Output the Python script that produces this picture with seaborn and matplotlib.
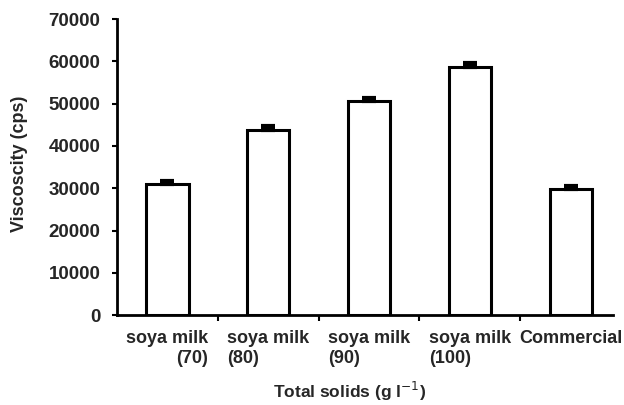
import matplotlib
matplotlib.use("Agg")
import matplotlib.pyplot as plt
import seaborn as sns
import pandas as pd
import numpy as np

categories = ["soya milk\n(70)", "soya milk\n(80)", "soya milk\n(90)", "soya milk\n(100)", "Commercial"]
viscosity = [31000, 43800, 50600, 58700, 29800]
errors = [800, 800, 800, 800, 800]

sns.set_theme(style="white")
plt.rcParams['font.family'] = ['Liberation Sans', 'DejaVu Sans']

df = pd.DataFrame({"cat": categories, "v": viscosity})

fig = plt.figure(figsize=(6.24, 4.05), dpi=100)
ax = fig.add_axes([0.1875, 0.222, 0.795, 0.731])

sns.barplot(data=df, x="cat", y="v", ax=ax, color="white", edgecolor="black",
            linewidth=2.2, width=0.42, errorbar=None, saturation=1)
ax.errorbar(np.arange(len(categories)), viscosity, yerr=[np.zeros(len(errors)), errors],
            fmt="none", ecolor="black", elinewidth=3, capsize=5, capthick=3)

ax.set_ylim(0, 70000)
ax.set_xlim(-0.5, 4.42)
ax.set_yticks(np.arange(0, 70001, 10000))
ax.set_yticklabels([str(v) for v in range(0, 70001, 10000)], fontsize=13.5, fontweight="bold")

ax.set_xticks(np.arange(len(categories)))
ax.set_xticklabels(categories, fontsize=13, fontweight="bold")
for i, lab in enumerate(ax.get_xticklabels()):
    lab.set_multialignment("right" if i == 0 else "left")
ax.tick_params(axis="x", which="major", length=0, pad=11)
ax.set_xticks(np.arange(0.5, 4.0, 1.0), minor=True)
ax.tick_params(axis="x", which="minor", length=4, width=1.5, direction="out", color="black", bottom=True)
ax.tick_params(axis="y", which="major", length=3.5, width=1.5, direction="out", color="black", left=True, pad=8.5)

for s in ["top", "right"]:
    ax.spines[s].set_visible(False)
for s in ["left", "bottom"]:
    ax.spines[s].set_color("black")
    ax.spines[s].set_linewidth(2)

ax.set_xlabel("Total solids (g l$^{-1}$)", fontsize=12.5, fontweight="bold")
ax.set_ylabel("Viscoscity (cps)", fontsize=13, fontweight="bold")
ax.xaxis.set_label_coords(0.468, -0.218)
ax.yaxis.set_label_coords(-0.179, 0.51)

fig.savefig("out.png", dpi=100)
